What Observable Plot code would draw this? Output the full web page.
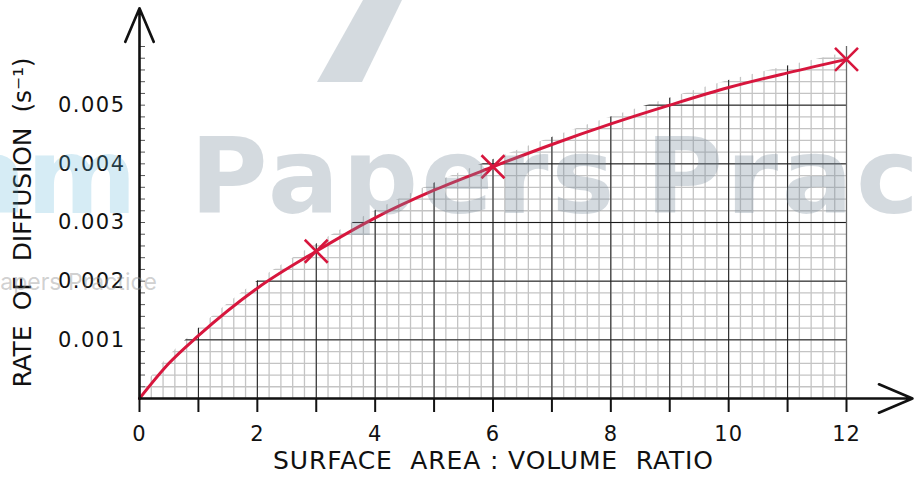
<!DOCTYPE html>
<html>
<head>
<meta charset="utf-8">
<script src="https://cdn.jsdelivr.net/npm/d3@7"></script>
<script src="https://cdn.jsdelivr.net/npm/@observablehq/plot@0.6"></script>
<style>
  html, body { margin: 0; padding: 0; background: #fff; }
  #wrap { position: relative; width: 920px; height: 482px; overflow: hidden; }
  #wrap svg text { white-space: pre; }
  #wm { position: absolute; left: 0; top: 0; pointer-events: none; }
</style>
</head>
<body>
<div id="wrap"></div>
<script>
// ---- data ----
const pointX = [3, 6, 12];                       // plotted crosses
const pointY = [0.00251, 0.00395, 0.00578];
const curveX = [0, 0.5, 1, 2, 3, 4, 5, 6, 7, 8, 9, 10, 11, 12];   // drawn best-fit curve
const curveY = [0, 0.0006, 0.00107, 0.00188, 0.00251, 0.00308, 0.00355, 0.00395, 0.00433, 0.00468, 0.005, 0.0053, 0.00555, 0.00578];
const xTicks = [0, 1, 2, 3, 4, 5, 6, 7, 8, 9, 10, 11, 12];
const xTickLabels = [0, 2, 4, 6, 8, 10, 12];
const yTickLabels = [0.001, 0.002, 0.003, 0.004, 0.005];
const xMajorGrid = [0, 1, 2, 3, 4, 5, 6, 7, 8, 9, 10, 11];
const yMajorGrid = [0.001, 0.002, 0.003, 0.004, 0.005];
const xMinorGrid = d3.range(0, 60).map(i => i / 5);
const yMinorGrid = d3.range(0, 31).map(i => i / 5000);
const xDomain = [0, 12];
const yDomain = [0, 0.006];
const xAxisEnd = 13.12;
const yAxisEnd = 0.00665;
const maskTop = 0.0072;
const xTitle = "SURFACE  AREA : VOLUME  RATIO";
const yTitle = "RATE  OF  DIFFUSION  (s\u207B\u00B9)";

const curve = curveX.map((x, i) => ({x, y: curveY[i]}));
const points = pointX.map((x, i) => ({x, y: pointY[i]}));
const red = "#d7163d";
const font = "DejaVu Sans";

const chart = Plot.plot({
  width: 920,
  height: 482,
  marginLeft: 139,
  marginRight: 74,
  marginTop: 46,
  marginBottom: 84,
  style: {background: "#fff", fontFamily: font, color: "#111", overflow: "visible"},
  x: {domain: xDomain},
  y: {domain: yDomain},
  marks: [
    Plot.ruleX(xMinorGrid, {stroke: "#c4c4c4", strokeWidth: 1.3}),
    Plot.ruleY(yMinorGrid, {x1: 0, x2: 12, stroke: "#c4c4c4", strokeWidth: 1.3}),
    Plot.ruleX(xMajorGrid, {stroke: "#1a1a1a", strokeWidth: 1}),
    Plot.ruleY(yMajorGrid, {x1: 0, x2: 12, stroke: "#1a1a1a", strokeWidth: 1}),
    Plot.areaY(curve, {x: "x", y1: "y", y2: maskTop, curve: "monotone-x", fill: "#fff", dy: -7}),
    Plot.ruleX([12], {stroke: "#6a6a6a", strokeWidth: 1.3}),
    Plot.line(curve, {x: "x", y: "y", curve: "monotone-x", stroke: red, strokeWidth: 3}),
    Plot.dot(points, {x: "x", y: "y", symbol: "times", r: 10.5, stroke: red, strokeWidth: 2.6}),
    Plot.axisX({ticks: xTicks, tickSize: 14, tickPadding: 14, strokeWidth: 2,
      tickFormat: d => xTickLabels.includes(d) ? String(d) : "", fontSize: 21, label: null}),
    Plot.axisY({ticks: yMinorGrid, tickSize: 6, dx: 6, tickFormat: () => "", stroke: "#555", label: null}),
    Plot.axisY({ticks: yTickLabels, tickSize: 0, tickPadding: 14, tickFormat: d3.format(".3f"), fontSize: 21, label: null}),
    Plot.arrow([0], {x1: 0, y1: 0, x2: xAxisEnd, y2: 0, stroke: "#111", strokeWidth: 2.6, headLength: 21, headAngle: 46}),
    Plot.arrow([0], {x1: 0, y1: 0, x2: 0, y2: yAxisEnd, stroke: "#111", strokeWidth: 2.6, headLength: 21, headAngle: 46}),
    Plot.text([xTitle], {frameAnchor: "bottom", dy: 70, fontSize: 25, fill: "#111"}),
    Plot.text([yTitle], {frameAnchor: "left", textAnchor: "start", dx: -117, dy: 165, rotate: -90, fontSize: 25, fill: "#111"})
  ]
});
document.getElementById("wrap").appendChild(chart);

// stretch the axis titles to the reference widths
chart.querySelectorAll("text").forEach(t => {
  if (t.textContent === xTitle) { t.setAttribute("textLength", 440); t.setAttribute("lengthAdjust", "spacing"); }
  if (t.textContent === yTitle) { t.setAttribute("textLength", 330); t.setAttribute("lengthAdjust", "spacing"); }
  if (/^0\.00\d$/.test(t.textContent)) t.setAttribute("letter-spacing", "1.5");
  if (/^\d+$/.test(t.textContent)) t.setAttribute("letter-spacing", "1");
});

// watermark overlay (as seen in the reference)
const ns = "http://www.w3.org/2000/svg";
const wm = document.createElementNS(ns, "svg");
wm.setAttribute("id", "wm"); wm.setAttribute("width", 920); wm.setAttribute("height", 482);
wm.innerHTML = `
  <polygon points="363,0 402,0 362,82 317,82" fill="rgba(120,140,155,0.32)"/>
  <text x="137" y="213" text-anchor="end" font-family="'DejaVu Sans', sans-serif" font-weight="700" font-size="106" fill="rgba(90,180,215,0.25)">Exam</text>
  <text x="190" y="213" font-family="'DejaVu Sans', sans-serif" font-weight="700" font-size="106" letter-spacing="3" word-spacing="-12" fill="rgba(120,140,155,0.32)">Papers Practice</text>
  <text x="157" y="290" text-anchor="end" font-family="Inter, 'Open Sans', sans-serif" font-size="23" fill="rgba(150,150,150,0.45)">Exam Papers Practice</text>`;
document.getElementById("wrap").appendChild(wm);
</script>
</body>
</html>
